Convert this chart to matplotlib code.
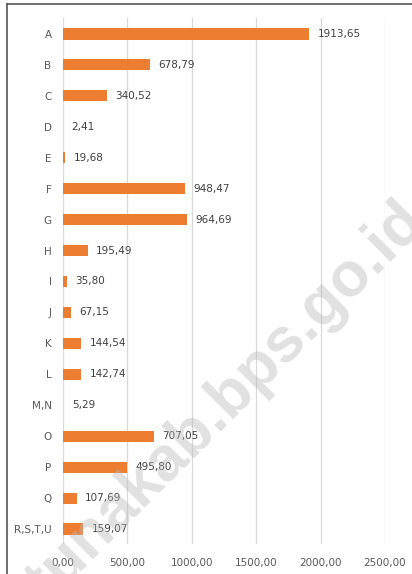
import matplotlib.pyplot as plt
from matplotlib.lines import Line2D

categories = ['A', 'B', 'C', 'D', 'E', 'F', 'G', 'H', 'I', 'J', 'K', 'L',
              'M,N', 'O', 'P', 'Q', 'R,S,T,U']
values = [1913.65, 678.79, 340.52, 2.41, 19.68, 948.47, 964.69, 195.49, 35.80,
          67.15, 144.54, 142.74, 5.29, 707.05, 495.80, 107.69, 159.07]
xticks = [0, 500, 1000, 1500, 2000, 2500]

def fmt(v):
    return f'{v:.2f}'.replace('.', ',')

fig = plt.figure(figsize=(4.12, 5.74), dpi=100)
ax = fig.add_axes([0.1522, 0.0514, 0.7823, 0.9164])

ypos = list(range(len(categories)))
ax.barh(ypos, values, height=0.36, color='#ED7D31', zorder=2)
ax.set_ylim(len(categories) - 0.5, -0.5)
ax.set_xlim(0, 2500)

for y, v in zip(ypos, values):
    ax.annotate(fmt(v), (v, y), xytext=(6, 0), textcoords='offset points',
                ha='left', va='center', fontsize=7.5, color='#404040')

ax.set_yticks(ypos)
ax.set_yticklabels(categories)
ax.set_xticks(xticks)
ax.set_xticklabels([fmt(t) for t in xticks])
ax.tick_params(axis='both', length=0, labelsize=7.5, labelcolor='#595959')
ax.tick_params(axis='y', pad=8)
ax.tick_params(axis='x', pad=10)
ax.grid(axis='x', color='#d9d9d9', linewidth=0.9, zorder=0)
for s in ax.spines.values():
    s.set_visible(False)

# border of the original frame
fig.add_artist(Line2D([7 / 412, 1], [1 - 3.5 / 574, 1 - 3.5 / 574], color='#555555', lw=1.2))
fig.add_artist(Line2D([7.5 / 412, 7.5 / 412], [0, 1 - 3.5 / 574], color='#555555', lw=1.2))

# watermark, its start lies outside the picture as in the source
fig.text(-0.008, -0.135, 'natunakab.bps.go.id', fontsize=45, fontweight='bold',
         family='Liberation Sans', color='#b8b8b8', alpha=0.42, rotation=45,
         ha='left', va='baseline', rotation_mode='anchor', zorder=5)

fig.savefig('out.png', dpi=100)
